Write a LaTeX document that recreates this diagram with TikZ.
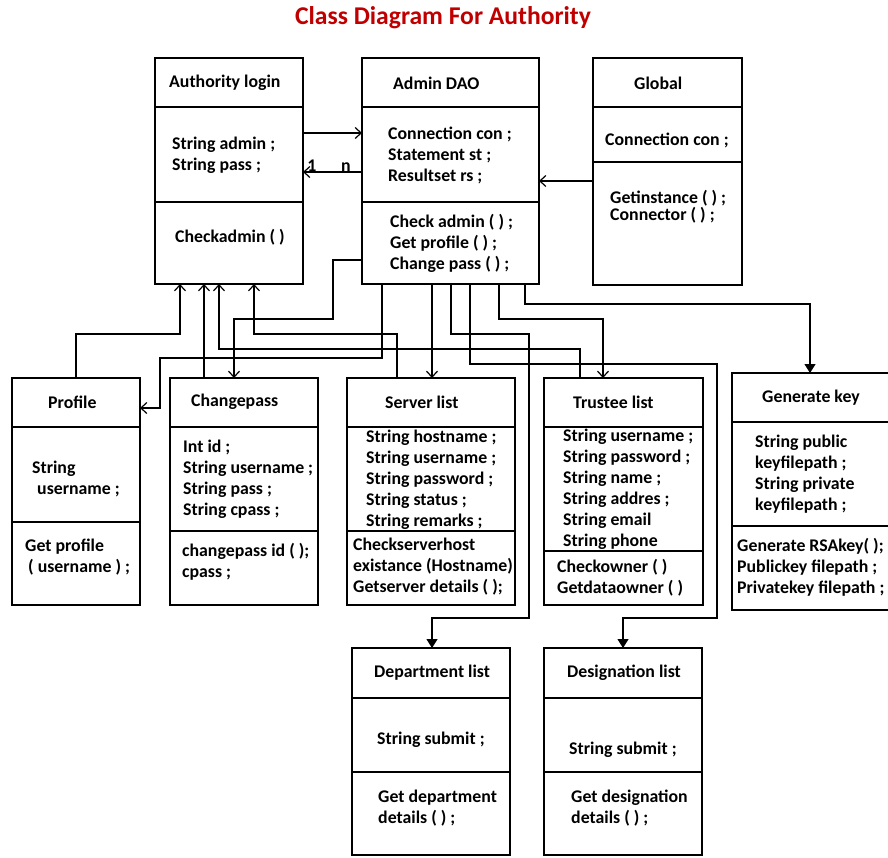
\documentclass[tikz,border=0pt]{standalone}
\usepackage{fontspec}
\setmainfont{Carlito}
\usetikzlibrary{arrows.meta}
\definecolor{titlered}{RGB}{192,0,0}

% class box: name, x1, y1, x2, y2, first divider, second divider
\newcommand\umlclass[7]{%
  \node[classbox, minimum width={#4-#2}, minimum height={#5-#3}] (#1) at (#2,#3) {};
  \draw[divider] (#2,#6) -- (#4,#6);
  \draw[divider] (#2,#7) -- (#4,#7);
}

\begin{document}
\begin{tikzpicture}[x=1pt, y=-1pt,
  classbox/.style={draw, line width=1.2pt, rectangle, inner sep=0pt, outer sep=0pt, anchor=north west},
  divider/.style={line width=1.2pt},
  txt/.style={anchor=west, align=left, inner sep=0pt, font=\bfseries\fontsize{17.8}{21}\selectfont},
  link/.style={draw, line width=1.2pt},
  opentip/.style={link, -{Straight Barb[length=6pt, width=11pt, line width=1.2pt]}},
  filltip/.style={link, -{Triangle[length=9pt, width=11pt]}},
]
\useasboundingbox (0,0) rectangle (888,857);

\node[font=\bfseries\fontsize{25.6}{30}\selectfont, text=titlered, inner sep=0pt] (title) at (443,18) {Class Diagram For Authority};

% classes
\umlclass{auth}{155}{58}{303}{284}{107}{202}
\umlclass{admin}{362}{58}{539}{284}{107}{202}
\umlclass{global}{593}{58}{742}{285}{107}{162}
\umlclass{prof}{12}{378}{140}{605}{427}{522}
\umlclass{chg}{170}{378}{318}{605}{427}{531}
\umlclass{serv}{347}{378}{515}{605}{427}{531}
\umlclass{trust}{544}{378}{703}{605}{427}{551}
\umlclass{gen}{732}{373}{892}{610}{422}{526}
\umlclass{dept}{352}{648}{510}{855}{698}{772}
\umlclass{desig}{544}{648}{702}{855}{698}{772}

% Authority login
\node[txt] (authT) at (169,83) {Authority login};
\node[txt] (authA) at (172,155) {String admin ;\\String pass ;};
\node[txt] (authM) at (175,237) {Checkadmin ( )};
% Admin DAO
\node[txt] (adminT) at (393,83) {Admin DAO};
\node[txt] (adminA) at (388,155) {Connection con ;\\Statement st ;\\Resultset rs ;};
\node[txt] (adminM) at (390,243) {Check admin ( ) ;\\Get profile ( ) ;\\Change pass ( ) ;};
% Global
\node[txt] (globalT) at (634,83) {Global};
\node[txt] (globalA) at (605,140) {Connection con ;};
\node[txt] (globalM) at (610,206.5) {Getinstance ( ) ;\\[-4pt]Connector ( ) ;};
% Profile
\node[txt] (profT) at (48,402) {Profile};
\node[txt] (profA) at (32,479) {String\\\hspace*{5pt}username ;};
\node[txt] (profM) at (25,557) {Get profile\\\hspace*{3pt}( username ) ;};
% Changepass
\node[txt] (chgT) at (191,402) {Changepass};
\node[txt] (chgA) at (183,479.5) {Int id ;\\String username ;\\String pass ;\\String cpass ;};
\node[txt] (chgM) at (182,562) {changepass id ( );\\cpass ;};
% Server list
\node[txt] (servT) at (385,402) {Server list};
\node[txt] (servA) at (366,479.5) {String hostname ;\\String username ;\\String password ;\\String status ;\\String remarks ;};
\node[txt] (servM) at (353,567) {Checkserverhost\\existance (Hostname)\\Getserver details ( );};
% Trustee list
\node[txt] (trustT) at (573,402) {Trustee list};
\node[txt] (trustA) at (563,489.5) {String username ;\\String password ;\\String name ;\\String addres ;\\String email\\String phone};
\node[txt] (trustM) at (557,577.5) {Checkowner ( )\\Getdataowner ( )};
% Generate key
\node[txt] (genT) at (762,398) {Generate key};
\node[txt] (genA) at (755,474.5) {String public\\keyfilepath ;\\String private\\keyfilepath ;};
\node[txt] (genM) at (737,567.5) {Generate RSAkey( );\\Publickey filepath ;\\Privatekey filepath ;};
% Department list
\node[txt] (deptT) at (374,673) {Department list};
\node[txt] (deptA) at (377,740) {String submit ;};
\node[txt] (deptM) at (378,808) {Get department\\details ( ) ;};
% Designation list
\node[txt] (desigT) at (567,673) {Designation list};
\node[txt] (desigA) at (569,750) {String submit ;};
\node[txt] (desigM) at (571,808) {Get designation\\details ( ) ;};

% associations between the top classes
\draw[opentip] (auth.east |- 0,133) -- (admin.west |- 0,133);
\draw[opentip] (admin.west |- 0,172) -- (auth.east |- 0,172);
\node[txt, anchor=base] (mulone) at (312,171) {1};
\node[txt, anchor=base] (mulmany) at (346,171) {n};
\draw[opentip] (global.west |- 0,181) -- (admin.east |- 0,181);

% lower classes up to Authority login
\draw[opentip] (prof.north) |- (180,334) -- (auth.south -| 180,0);
\draw[opentip] (chg.north -| 204,0) -- (auth.south -| 204,0);
\draw[opentip] (trust.north -| 580,0) |- (219,349) -- (auth.south -| 219,0);
\draw[opentip] (serv.north -| 397,0) |- (254,334) -- (auth.south -| 254,0);

% Admin DAO down to the lower classes
\draw[opentip] (admin.west |- 0,260) -| (333,319) -| (chg.north -| 234,0);
\draw[opentip] (admin.south -| 382,0) |- (160,358) |- (prof.east |- 0,408);
\draw[opentip] (admin.south -| 432,0) -- (serv.north -| 432,0);
\draw[opentip] (admin.south -| 499,0) |- (603,319) -- (trust.north -| 603,0);
\draw[filltip] (admin.south -| 525,0) |- (810,304) -- (gen.north -| 810,0);
\draw[filltip] (admin.south -| 451,0) |- (529,334) |- (432,618) -- (dept.north -| 432,0);
\draw[filltip] (admin.south -| 470,0) |- (717,364) |- (623,618) -- (desig.north -| 623,0);
\end{tikzpicture}
\end{document}
